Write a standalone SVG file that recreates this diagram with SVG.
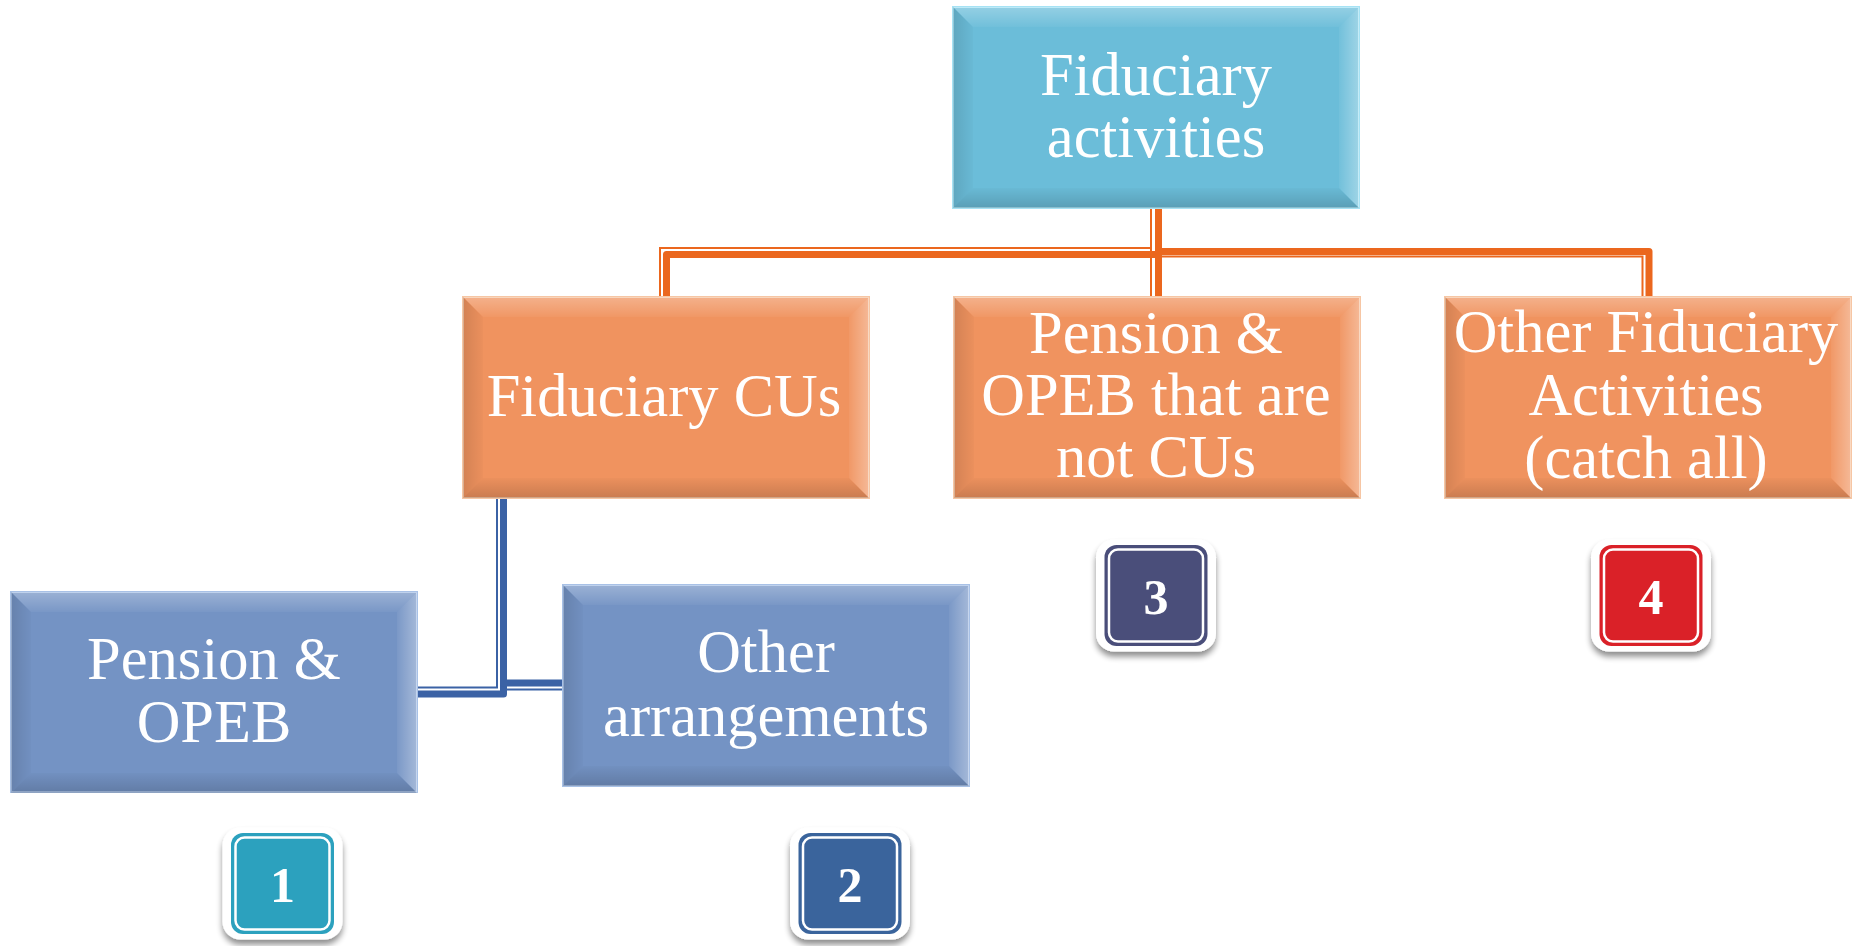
<svg xmlns="http://www.w3.org/2000/svg" xmlns:xlink="http://www.w3.org/1999/xlink" width="1853" height="946" viewBox="0 0 1853 946">
  <style>
    .lbl { font-family: "Liberation Serif", "Times New Roman", serif; font-size: 60.5px; fill: #ffffff; text-anchor: middle; }
    .num { font-family: "Liberation Serif", "Times New Roman", serif; font-size: 50px; font-weight: bold; fill: #ffffff; text-anchor: middle; }
    .sky { fill: #6BBDD9; stroke: #A6E2F4; stroke-width: 2; }
    .org { fill: #F0935F; stroke: #F6C6A4; stroke-width: 2; }
    .blu { fill: #7493C4; stroke: #A8C1E6; stroke-width: 2; }
    .c-org-thick { fill: none; stroke: #EB671E; stroke-width: 7; stroke-linejoin: round; }
    .c-org-thin { fill: none; stroke: #EB671E; stroke-width: 2; }
    .c-blu-thick { fill: none; stroke: #3B62A5; stroke-width: 7; stroke-linejoin: round; }
    .c-blu-thin { fill: none; stroke: #3B62A5; stroke-width: 2; }
    .frame { fill: #ffffff; filter: url(#shadow); }
    .inner { fill: none; stroke: #ffffff; stroke-width: 2.5; }
  </style>
  <defs>
    <linearGradient id="bvT" x1="0" y1="0" x2="0" y2="1">
      <stop offset="0" stop-color="#ffffff" stop-opacity="0.28"/>
      <stop offset="1" stop-color="#ffffff" stop-opacity="0.04"/>
    </linearGradient>
    <linearGradient id="bvR" x1="0" y1="0" x2="1" y2="0">
      <stop offset="0" stop-color="#ffffff" stop-opacity="0.05"/>
      <stop offset="1" stop-color="#ffffff" stop-opacity="0.35"/>
    </linearGradient>
    <linearGradient id="bvB" x1="0" y1="0" x2="0" y2="1">
      <stop offset="0" stop-color="#000000" stop-opacity="0.02"/>
      <stop offset="1" stop-color="#000000" stop-opacity="0.16"/>
    </linearGradient>
    <linearGradient id="bvL" x1="0" y1="0" x2="1" y2="0">
      <stop offset="0" stop-color="#000000" stop-opacity="0.12"/>
      <stop offset="1" stop-color="#000000" stop-opacity="0.02"/>
    </linearGradient>
    <!-- angled bevel faces shared by every 406 x 201 box -->
    <g id="bevel">
      <polygon points="0,0 406,0 386,20 20,20" fill="url(#bvT)"/>
      <polygon points="406,0 406,201 386,181 386,20" fill="url(#bvR)"/>
      <polygon points="0,201 406,201 386,181 20,181" fill="url(#bvB)"/>
      <polygon points="0,0 0,201 20,181 20,20" fill="url(#bvL)"/>
    </g>
    <filter id="shadow" x="-20%" y="-20%" width="140%" height="150%">
      <feGaussianBlur in="SourceAlpha" stdDeviation="3"/>
      <feOffset dx="0" dy="5" result="b"/>
      <feComponentTransfer><feFuncA type="linear" slope="0.45"/></feComponentTransfer>
      <feMerge><feMergeNode/><feMergeNode in="SourceGraphic"/></feMerge>
    </filter>
  </defs>

  <!-- connectors: double (thin + thick) lines -->
  <g id="connectors">
    <!-- top to Fiduciary CUs -->
    <path class="c-org-thin" d="M1151,209 V248 H660 V297"/>
    <path class="c-org-thick" d="M1158.5,209 V254.5 H666.5 V297"/>
    <!-- top to Pension & OPEB that are not CUs -->
    <path class="c-org-thin" d="M1151,209 V297"/>
    <path class="c-org-thick" d="M1158.5,209 V297"/>
    <!-- top to Other Fiduciary Activities -->
    <path class="c-org-thick" d="M1158.5,209 V251.5 H1649 V297"/>
    <path class="c-org-thin" d="M1162,256.5 H1642.5 V297"/>
    <!-- Fiduciary CUs to Pension & OPEB -->
    <path class="c-blu-thin" d="M497,498 V687.5 H417"/>
    <path class="c-blu-thick" d="M503.5,498 V694 H417"/>
    <!-- Fiduciary CUs to Other arrangements -->
    <path class="c-blu-thick" d="M503.5,498 V683 H563"/>
    <path class="c-blu-thin" d="M507,689.5 H563"/>
  </g>

  <g id="n-fiduciary-activities" transform="translate(953,7)">
    <rect class="sky" width="406" height="201"/>
    <use xlink:href="#bevel"/>
    <text class="lbl" x="203" y="88">Fiduciary</text>
    <text class="lbl" x="203" y="150">activities</text>
  </g>

  <g id="n-fiduciary-cus" transform="translate(463,297)">
    <rect class="org" width="406" height="201"/>
    <use xlink:href="#bevel"/>
    <text class="lbl" x="201" y="119">Fiduciary CUs</text>
  </g>

  <g id="n-pension-not-cus" transform="translate(954,297)">
    <rect class="org" width="406" height="201"/>
    <use xlink:href="#bevel"/>
    <text class="lbl" x="202" y="56">Pension &amp;</text>
    <text class="lbl" x="202" y="118">OPEB that are</text>
    <text class="lbl" x="202" y="180">not CUs</text>
  </g>

  <g id="n-other-fiduciary" transform="translate(1445,297)">
    <rect class="org" width="406" height="201"/>
    <use xlink:href="#bevel"/>
    <text class="lbl" x="201" y="55">Other Fiduciary</text>
    <text class="lbl" x="201" y="118">Activities</text>
    <text class="lbl" x="201" y="181">(catch all)</text>
  </g>

  <g id="n-pension-opeb" transform="translate(11,592)">
    <rect class="blu" width="406" height="200"/>
    <use xlink:href="#bevel"/>
    <text class="lbl" x="203" y="87">Pension &amp;</text>
    <text class="lbl" x="203" y="150">OPEB</text>
  </g>

  <g id="n-other-arrangements" transform="translate(563,585)">
    <rect class="blu" width="406" height="201"/>
    <use xlink:href="#bevel"/>
    <text class="lbl" x="203" y="87">Other</text>
    <text class="lbl" x="203" y="151">arrangements</text>
  </g>

  <!-- numbered tags -->
  <g id="tag-1" transform="translate(282.5,883.5)">
    <rect class="frame" x="-60" y="-56" width="120" height="112" rx="18"/>
    <rect x="-51.5" y="-50.5" width="103" height="101" rx="12" fill="#2CA1BE"/>
    <rect class="inner" x="-47" y="-46" width="94" height="92" rx="9"/>
    <text class="num" x="0" y="18">1</text>
  </g>
  <g id="tag-2" transform="translate(850,883.5)">
    <rect class="frame" x="-60" y="-56" width="120" height="112" rx="18"/>
    <rect x="-51.5" y="-50.5" width="103" height="101" rx="12" fill="#3A649C"/>
    <rect class="inner" x="-47" y="-46" width="94" height="92" rx="9"/>
    <text class="num" x="0" y="18">2</text>
  </g>
  <g id="tag-3" transform="translate(1156,595.5)">
    <rect class="frame" x="-60" y="-56" width="120" height="112" rx="18"/>
    <rect x="-51.5" y="-50.5" width="103" height="101" rx="12" fill="#4A4E7A"/>
    <rect class="inner" x="-47" y="-46" width="94" height="92" rx="9"/>
    <text class="num" x="0" y="18">3</text>
  </g>
  <g id="tag-4" transform="translate(1651,595.5)">
    <rect class="frame" x="-60" y="-56" width="120" height="112" rx="18"/>
    <rect x="-51.5" y="-50.5" width="103" height="101" rx="12" fill="#DA2128"/>
    <rect class="inner" x="-47" y="-46" width="94" height="92" rx="9"/>
    <text class="num" x="0" y="18">4</text>
  </g>
</svg>
